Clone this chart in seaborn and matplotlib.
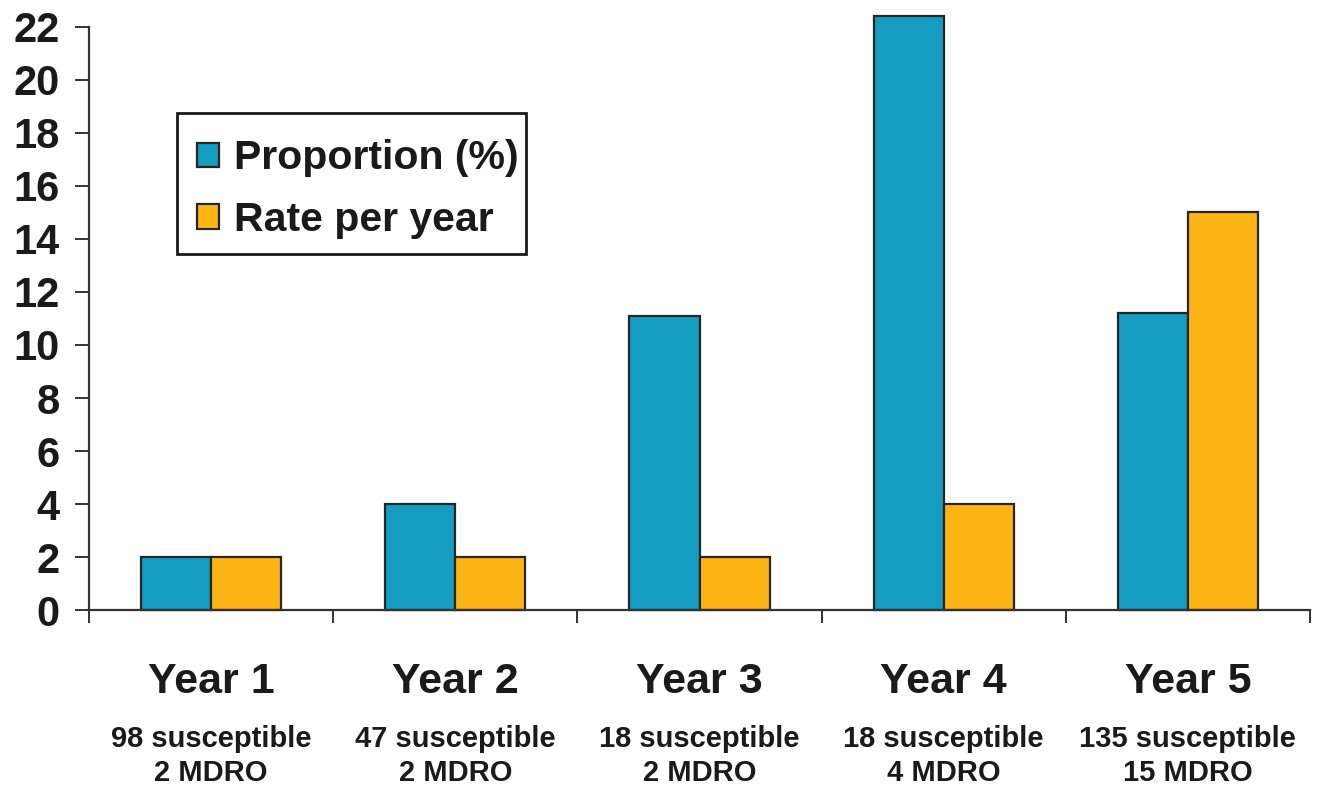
import matplotlib
matplotlib.use("Agg")
import matplotlib.pyplot as plt
import matplotlib.transforms as mtransforms
from matplotlib.patches import Rectangle
import pandas as pd
import seaborn as sns

# Data
years = ["Year 1", "Year 2", "Year 3", "Year 4", "Year 5"]
susceptible = [98, 47, 18, 18, 135]
mdro = [2, 2, 2, 4, 15]
proportion = [2.0, 4.0, 11.1, 22.4, 11.2]
rate_per_year = [2, 2, 2, 4, 15]
series_names = ["Proportion (%)", "Rate per year"]
y_ticks = list(range(0, 23, 2))

df = pd.DataFrame({
    "year": years * 2,
    "value": proportion + rate_per_year,
    "series": [series_names[0]] * len(years) + [series_names[1]] * len(years),
})

sns.set_theme(style="white")
plt.rcParams["font.family"] = ["Liberation Sans", "DejaVu Sans"]
plt.rcParams["font.weight"] = "bold"

colors = ["#149cc1", "#fdb515"]

fig = plt.figure(figsize=(13.21, 7.85), dpi=100)
ax = fig.add_axes([0.0674, 0.2229, 0.9243, 0.763])

sns.barplot(
    data=df, x="year", y="value", hue="series", palette=colors,
    width=0.574, edgecolor="#262626", linewidth=1.6, saturation=1,
    ax=ax, legend=True,
)
for p in ax.patches:
    p.set_clip_on(False)

ax.set_xlim(-0.5, len(years) - 0.5)
ax.set_ylim(0, 22.6)
ax.set_xlabel("")
ax.set_ylabel("")

# Spines
for s in ["top", "right"]:
    ax.spines[s].set_visible(False)
for s in ["left", "bottom"]:
    ax.spines[s].set_color("#333333")
    ax.spines[s].set_linewidth(1.6)
ax.spines["left"].set_bounds(0, 22)

# Y axis ticks
ax.set_yticks(y_ticks)
ax.set_yticklabels([str(t) for t in y_ticks], fontsize=30, fontweight="bold",
                   color="#1a1a1a")
ax.tick_params(axis="y", direction="out", length=10, width=1.4,
               color="#333333", pad=11, left=True)

# X axis: boundary ticks, year labels drawn as text
ax.set_xticks([i - 0.5 for i in range(len(years) + 1)])
ax.set_xticklabels([])
ax.tick_params(axis="x", direction="out", length=9, width=1.4,
               color="#333333", bottom=True)

trans = mtransforms.blended_transform_factory(ax.transData, ax.transAxes)
for i, yr in enumerate(years):
    ax.text(i, -0.1386, yr, transform=trans, ha="center", va="baseline",
            fontsize=31, fontweight="bold", color="#1a1a1a")
    ax.text(i, -0.2287, f"{susceptible[i]} susceptible", transform=trans,
            ha="center", va="baseline", fontsize=21, fontweight="bold",
            color="#1a1a1a")
    ax.text(i, -0.2855, f"{mdro[i]} MDRO", transform=trans,
            ha="center", va="baseline", fontsize=21, fontweight="bold",
            color="#1a1a1a")

# Legend entries (frameless) inside a square-cornered box
handles, labels = ax.get_legend_handles_labels()
leg = ax.legend(
    handles, labels, loc="upper left", bbox_to_anchor=(0.0885, 0.786),
    borderaxespad=0, borderpad=0, frameon=False,
    prop={"size": 29.5, "weight": "bold"}, handlelength=0.54,
    handleheight=0.54, handletextpad=0.35, labelspacing=0.58,
)
for t in leg.get_texts():
    t.set_color("#1a1a1a")
ax.add_patch(Rectangle((0.0721, 0.5943), 0.2858, 0.2354, transform=ax.transAxes,
                       fill=False, edgecolor="#1a1a1a", linewidth=2.0,
                       clip_on=False, zorder=5))

fig.savefig("out.png", dpi=100, facecolor="white")
